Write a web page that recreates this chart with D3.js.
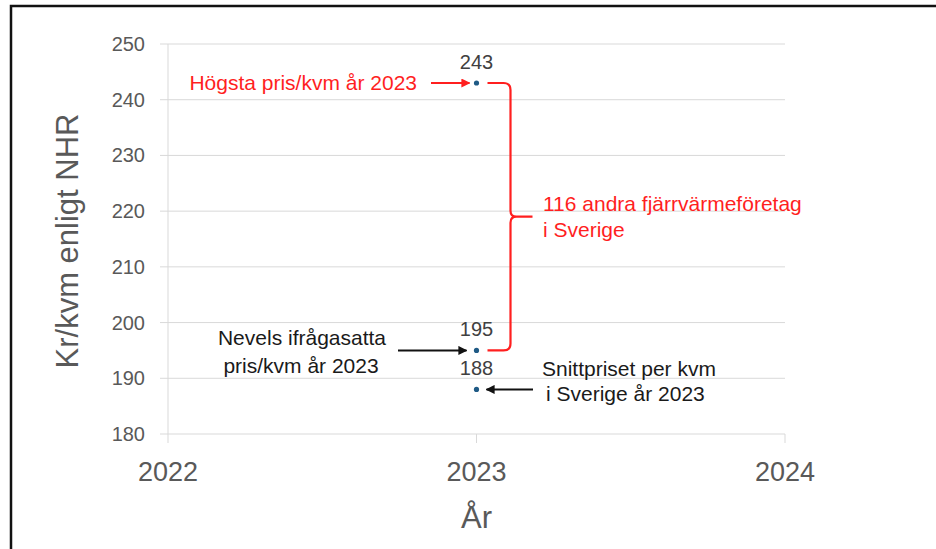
<!DOCTYPE html>
<meta charset="utf-8">
<html>
<head>
<title>Pris per kvm 2023</title>
<script src="https://d3js.org/d3.v7.min.js"></script>
<style>
  body { margin: 0; background: #fff; }
  text { font-family: "Liberation Sans", Arial, sans-serif; }
  .grid line { stroke: #d9d9d9; stroke-width: 1; }
  .ytick { fill: #595959; font-size: 20px; text-anchor: end; }
  .xtick { fill: #595959; font-size: 27px; text-anchor: middle; }
  .title { fill: #595959; }
  .vlabel { fill: #404040; font-size: 20px; text-anchor: middle; }
  .note { font-size: 21px; }
</style>
</head>
<body>
<svg width="936" height="549"></svg>
<script>
  // Data
  var years = [2023, 2023, 2023];
  var prices = [243, 195, 188];
  var yTicks = [180, 190, 200, 210, 220, 230, 240, 250];
  var xTicks = [2022, 2023, 2024];

  var svg = d3.select("svg");

  // frame (cropped screenshot border)
  svg.append("rect")
      .attr("x", 11).attr("y", 6)
      .attr("width", 1000).attr("height", 1000)
      .attr("fill", "none")
      .attr("stroke", "#111")
      .attr("stroke-width", 2.5);

  var x = d3.scaleLinear().domain([2022, 2024]).range([168, 785]);
  var y = d3.scaleLinear().domain([180, 250]).range([434, 44]);

  var grid = svg.append("g").attr("class", "grid");
  grid.selectAll(".h")
      .data(yTicks)
      .enter().append("line")
        .attr("x1", 160).attr("x2", x(2024))
        .attr("y1", function (d) { return y(d); })
        .attr("y2", function (d) { return y(d); });
  // y axis line and x ticks
  grid.append("line")
      .attr("x1", x(2022)).attr("x2", x(2022))
      .attr("y1", y(250)).attr("y2", y(180) + 9);
  grid.selectAll(".xt")
      .data(xTicks.slice(1))
      .enter().append("line")
        .attr("x1", function (d) { return x(d); })
        .attr("x2", function (d) { return x(d); })
        .attr("y1", y(180)).attr("y2", y(180) + 9);

  svg.selectAll(".ytick")
      .data(yTicks)
      .enter().append("text")
        .attr("class", "ytick")
        .attr("x", 145)
        .attr("y", function (d) { return y(d) + 7; })
        .text(function (d) { return d; });

  svg.selectAll(".xtick")
      .data(xTicks)
      .enter().append("text")
        .attr("class", "xtick")
        .attr("x", function (d) { return x(d); })
        .attr("y", 481)
        .text(function (d) { return d; });

  svg.append("text")
      .attr("class", "title")
      .attr("x", x(2023)).attr("y", 528)
      .attr("text-anchor", "middle")
      .style("font-size", "31px")
      .text("År");

  svg.append("text")
      .attr("class", "title")
      .attr("transform", "translate(78,241) rotate(-90)")
      .attr("text-anchor", "middle")
      .style("font-size", "31px")
      .text("Kr/kvm enligt NHR");

  // points
  svg.selectAll(".dot")
      .data(prices)
      .enter().append("circle")
        .attr("cx", function (d, i) { return x(years[i]); })
        .attr("cy", function (d) { return y(d); })
        .attr("r", 2.6)
        .attr("fill", "#1f5a85");

  svg.selectAll(".vlabel")
      .data(prices)
      .enter().append("text")
        .attr("class", "vlabel")
        .attr("x", function (d, i) { return x(years[i]); })
        .attr("y", function (d) { return y(d) - 14; })
        .text(function (d) { return d; });

  // arrow markers
  var defs = svg.append("defs");
  [["red", "#ff1f1f"], ["black", "#111"]].forEach(function (m) {
    defs.append("marker")
        .attr("id", "arr-" + m[0])
        .attr("viewBox", "0 0 10 10")
        .attr("refX", 9).attr("refY", 5)
        .attr("markerWidth", 4.5).attr("markerHeight", 4.5)
        .attr("orient", "auto")
      .append("path")
        .attr("d", "M0,0 L10,5 L0,10 Z")
        .attr("fill", m[1]);
  });

  var cx = x(2023);
  function arrow(x1, x2, yy, c) {
    svg.append("line")
        .attr("x1", x1).attr("x2", x2)
        .attr("y1", yy).attr("y2", yy)
        .attr("stroke", c == "red" ? "#ff1f1f" : "#111")
        .attr("stroke-width", 2)
        .attr("marker-end", "url(#arr-" + c + ")");
  }

  // red annotation: highest price
  svg.append("text")
      .attr("class", "note")
      .attr("x", 417).attr("y", y(243) + 7)
      .attr("text-anchor", "end")
      .attr("fill", "#ff1f1f")
      .text("Högsta pris/kvm år 2023");
  arrow(431, cx - 7, y(243), "red");

  // bracket from 243 down to 195
  var bx = cx + 34, yTop = y(243), yBot = y(195), yMid = (yTop + yBot) / 2;
  svg.append("path")
      .attr("d", "M" + (cx + 11) + "," + yTop +
                 " H" + (bx - 7) + " Q" + bx + "," + yTop + " " + bx + "," + (yTop + 7) +
                 " V" + (yMid - 6) + " Q" + bx + "," + yMid + " " + (bx + 6) + "," + yMid +
                 " H" + (bx + 22) +
                 " M" + (bx + 6) + "," + yMid + " Q" + bx + "," + yMid + " " + bx + "," + (yMid + 6) +
                 " V" + (yBot - 7) + " Q" + bx + "," + yBot + " " + (bx - 7) + "," + yBot +
                 " H" + (cx + 11))
      .attr("fill", "none")
      .attr("stroke", "#ff1f1f")
      .attr("stroke-width", 2.2);

  var red = svg.append("text")
      .attr("class", "note")
      .attr("fill", "#ff1f1f");
  red.append("tspan").attr("x", 543).attr("y", 211).text("116 andra fjärrvärmeföretag");
  red.append("tspan").attr("x", 543).attr("y", 237).text("i Sverige");

  // black annotations
  var nev = svg.append("text")
      .attr("class", "note")
      .attr("text-anchor", "middle")
      .attr("fill", "#1a1a1a");
  nev.append("tspan").attr("x", 302).attr("y", 345).text("Nevels ifrågasatta");
  nev.append("tspan").attr("x", 301).attr("y", 373).text("pris/kvm år 2023");
  arrow(398, cx - 10, y(195), "black");

  var snitt = svg.append("text")
      .attr("class", "note")
      .attr("fill", "#1a1a1a");
  snitt.append("tspan").attr("x", 542).attr("y", 376).text("Snittpriset per kvm");
  snitt.append("tspan").attr("x", 546).attr("y", 401).text("i Sverige år 2023");
  arrow(533, cx + 10, y(188), "black");
</script>
</body>
</html>
